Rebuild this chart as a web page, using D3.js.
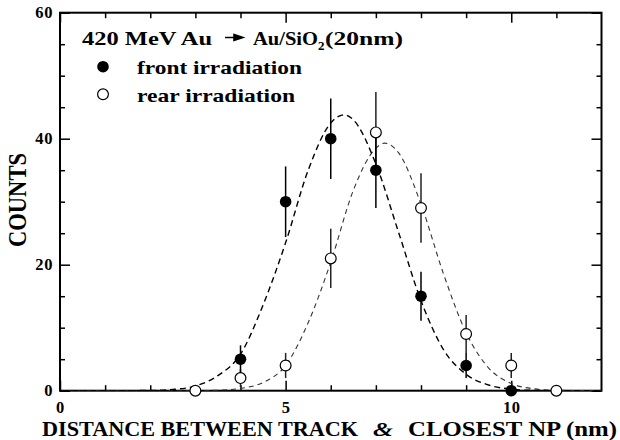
<!DOCTYPE html>
<html>
<head>
<meta charset="utf-8">
<script src="https://cdn.jsdelivr.net/npm/d3@7"></script>
<style>
  body { margin: 0; background: #fff; }
  svg text { font-family: "Liberation Serif", "Times New Roman", Times, serif; font-weight: bold; fill: #000; }
</style>
</head>
<body>
<div id="chart"></div>
<script>
// measured points (counts) and their error bars
var xFront = [4, 5, 6, 7, 8, 9, 10];
var yFront = [5, 30, 40, 35, 15, 4, 0];
var eFront = [2.2, 5.6, 6.4, 6.0, 3.9, 2.0, 0];

var xRear = [3, 4, 5, 6, 7, 8, 9, 10, 11];
var yRear = [0, 2, 4, 21, 41, 29, 9, 4, 0];
var eRear = [0, 1.4, 2.0, 4.7, 6.4, 5.5, 3.0, 2.0, 0];

// fitted curves
var fitFrontX = [0, 1, 2, 2.5, 3, 3.5, 4, 4.5, 5, 5.5, 6, 6.3, 6.5, 7, 7.5, 8, 8.5, 9, 9.5, 10, 10.5, 11, 12];
var fitFrontY = [0, 0, 0.04, 0.2, 0.75, 2.4, 5.8, 13.6, 23.5, 35, 42.5, 43.8, 43, 36, 25.2, 14.3, 6.5, 2.6, 0.9, 0.25, 0.05, 0.01, 0];
var fitRearX = [0, 1, 2, 3, 3.5, 4, 4.5, 5, 5.5, 6, 6.5, 7, 7.2, 7.5, 8, 8.5, 9, 9.5, 10, 10.5, 11, 12];
var fitRearY = [0, 0, 0, 0.01, 0.08, 0.37, 1.3, 4.0, 10.8, 20.4, 31.8, 38.5, 39.3, 37.8, 29.6, 18.5, 9.2, 3.6, 1.15, 0.3, 0.06, 0];

// ticks
var xMajor = [0, 5, 10];
var xMinor = [1, 2, 3, 4, 6, 7, 8, 9, 11];
var yMajor = [0, 20, 40, 60];
var yMinor = [5, 10, 15, 25, 30, 35, 45, 50, 55];

var svg = d3.select("#chart").append("svg")
    .attr("width", 620)
    .attr("height", 440);

var x = d3.scaleLinear().domain([0, 12]).range([60, 601.5]);
var y = d3.scaleLinear().domain([0, 60]).range([390.7, 12.7]);

svg.append("clipPath").attr("id", "plot")
  .append("rect")
    .attr("x", x(0)).attr("y", y(60))
    .attr("width", x(12) - x(0)).attr("height", y(0) - y(60));

// axes: ticks point inward on all four sides
function axis(gen, tr, vals, size, labels, pad) {
    var g = svg.append("g")
        .attr("transform", tr)
        .call(gen.tickValues(vals).tickSize(-size).tickPadding(pad || 3)
            .tickFormat(labels ? d3.format("d") : ""));
    g.select(".domain").remove();
    g.selectAll("line").attr("stroke", "#000").attr("stroke-width", 1.5);
    g.selectAll("text").attr("font-size", 16.5).attr("letter-spacing", 0.6);
    return g;
}

axis(d3.axisBottom(x), `translate(0,${y(0)})`, xMinor, 5.5, false);
axis(d3.axisBottom(x), `translate(0,${y(0)})`, xMajor, 10, true, 11);
axis(d3.axisTop(x), `translate(0,${y(60)})`, xMinor, 5.5, false);
axis(d3.axisTop(x), `translate(0,${y(60)})`, xMajor, 10, false);
axis(d3.axisLeft(y), `translate(${x(0)},0)`, yMinor, 5, false);
axis(d3.axisLeft(y), `translate(${x(0)},0)`, yMajor, 10, true, 7);
axis(d3.axisRight(y), `translate(${x(12)},0)`, yMinor, 5, false);
axis(d3.axisRight(y), `translate(${x(12)},0)`, yMajor, 10, false);

svg.append("rect")
    .attr("x", x(0)).attr("y", y(60))
    .attr("width", x(12) - x(0)).attr("height", y(0) - y(60))
    .attr("fill", "none").attr("stroke", "#000").attr("stroke-width", 2);

// fit curves
var line = d3.line()
    .x(function(d) { return x(d[0]); })
    .y(function(d) { return y(d[1]); })
    .curve(d3.curveMonotoneX);

svg.append("path")
    .datum(d3.zip(fitRearX, fitRearY))
    .attr("clip-path", "url(#plot)")
    .attr("d", line)
    .attr("fill", "none").attr("stroke", "#333")
    .attr("stroke-width", 1.1).attr("stroke-dasharray", "5,4");

svg.append("path")
    .datum(d3.zip(fitFrontX, fitFrontY))
    .attr("clip-path", "url(#plot)")
    .attr("d", line)
    .attr("fill", "none").attr("stroke", "#000")
    .attr("stroke-width", 1.4).attr("stroke-dasharray", "6,4");

// error bars
function errBars(xs, ys, es, color) {
    svg.append("g").selectAll("line")
        .data(d3.zip(xs, ys, es).filter(function(d) { return d[2] > 0; }))
        .enter().append("line")
        .attr("x1", function(d) { return x(d[0]); })
        .attr("x2", function(d) { return x(d[0]); })
        .attr("y1", function(d) { return y(Math.max(0, d[1] - d[2])); })
        .attr("y2", function(d) { return y(d[1] + d[2]); })
        .attr("stroke", color).attr("stroke-width", 1.5);
}
errBars(xRear, yRear, eRear, "#222");
errBars(xFront, yFront, eFront, "#000");

// markers
svg.append("g").selectAll("circle")
    .data(d3.zip(xRear, yRear))
    .enter().append("circle")
    .attr("cx", function(d) { return x(d[0]); })
    .attr("cy", function(d) { return y(d[1]); })
    .attr("r", 5.4)
    .attr("fill", "#fff").attr("stroke", "#000").attr("stroke-width", 1.2);

svg.append("g").selectAll("circle")
    .data(d3.zip(xFront, yFront))
    .enter().append("circle")
    .attr("cx", function(d) { return x(d[0]); })
    .attr("cy", function(d) { return y(d[1]); })
    .attr("r", 5.8)
    .attr("fill", "#000");

// title and legend
svg.append("text").attr("x", 82).attr("y", 45)
    .attr("font-size", 19)
    .attr("textLength", 130).attr("lengthAdjust", "spacingAndGlyphs")
    .text("420  MeV  Au");

svg.append("path")
    .attr("d", "M225,37.5 L235,37.5 M234,34.5 L243,37.5 L234,40.5 Z")
    .attr("stroke", "#000").attr("stroke-width", 1.6).attr("fill", "#000");

svg.append("text").attr("x", 253).attr("y", 45)
    .attr("font-size", 19)
    .attr("textLength", 65).attr("lengthAdjust", "spacingAndGlyphs")
    .text("Au/SiO");
svg.append("text").attr("x", 318).attr("y", 50)
    .attr("font-size", 13)
    .text("2");
svg.append("text").attr("x", 325).attr("y", 45)
    .attr("font-size", 19)
    .attr("textLength", 78).attr("lengthAdjust", "spacingAndGlyphs")
    .text("(20nm)");

svg.append("circle").attr("cx", 103).attr("cy", 66.7).attr("r", 5.8).attr("fill", "#000");
svg.append("circle").attr("cx", 103).attr("cy", 94.3).attr("r", 5.4)
    .attr("fill", "#fff").attr("stroke", "#000").attr("stroke-width", 1.2);

svg.append("text").attr("x", 137).attr("y", 74)
    .attr("font-size", 19)
    .attr("textLength", 165).attr("lengthAdjust", "spacingAndGlyphs")
    .text("front  irradiation");
svg.append("text").attr("x", 137).attr("y", 101.7)
    .attr("font-size", 19)
    .attr("textLength", 158).attr("lengthAdjust", "spacingAndGlyphs")
    .text("rear  irradiation");

// axis titles
svg.append("text").attr("x", 42).attr("y", 435.5)
    .attr("font-size", 20)
    .attr("textLength", 316).attr("lengthAdjust", "spacingAndGlyphs")
    .text("DISTANCE  BETWEEN  TRACK");
svg.append("text").attr("x", 373).attr("y", 436)
    .attr("font-size", 18).attr("font-style", "italic")
    .attr("textLength", 20).attr("lengthAdjust", "spacingAndGlyphs")
    .text("&");
svg.append("text").attr("x", 408).attr("y", 435.5)
    .attr("font-size", 20)
    .attr("textLength", 209).attr("lengthAdjust", "spacingAndGlyphs")
    .text("CLOSEST  NP  (nm)");

svg.append("text")
    .attr("transform", "translate(26,247) rotate(-90)")
    .attr("font-size", 25)
    .attr("textLength", 94).attr("lengthAdjust", "spacingAndGlyphs")
    .text("COUNTS");
</script>
</body>
</html>
